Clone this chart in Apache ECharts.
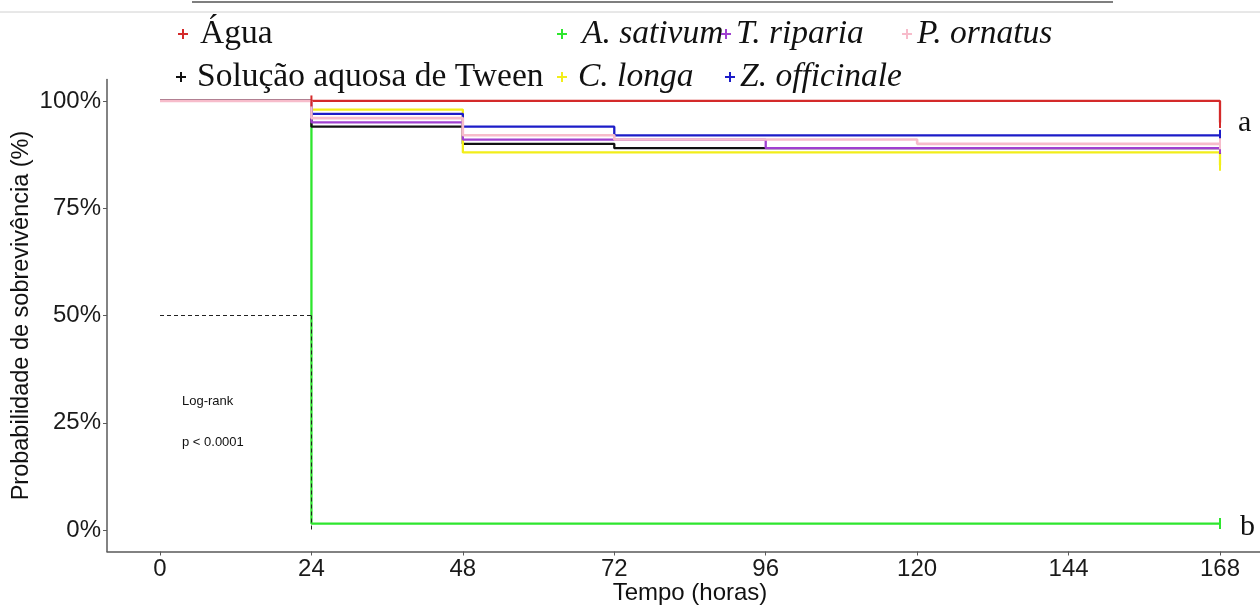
<!DOCTYPE html>
<html>
<head>
<meta charset="utf-8">
<title>Sobrevivência</title>
<script src="https://cdn.jsdelivr.net/npm/echarts@6/dist/echarts.min.js"></script>
<style>
  html, body { margin: 0; padding: 0; background: #fff; }
  #chart { width: 1260px; height: 605px; }
</style>
</head>
<body>
<div id="chart"></div>
<script>
// tempo (horas) e probabilidade de sobrevivência (%)
var hours      = [0, 24, 48, 72, 96, 120, 168];
var agua       = [100, 100, 100, 100, 100, 100, 95];
var sativum    = [100, 1.5, 1.5, 1.5, 1.5, 1.5, 1.5];
var tween      = [100, 94, 90, 89, 89, 89, 89];
var longa      = [100, 98, 88, 88, 88, 88, 85];
var riparia    = [100, 95, 91, 91, 89, 89, 89];
var officinale = [100, 97, 94, 92, 92, 92, 92];
var ornatus    = [100, 96, 92, 91, 91, 90, 90];

// censuras (horas)
var censorAgua = [24, 168];
var censorOthers = [168];

var xTicks = [0, 24, 48, 72, 96, 120, 144, 168];
var yTicks = [0, 25, 50, 75, 100];

var chart = echarts.init(document.getElementById('chart'));

function pairs(values) {
    return hours.map(function (h, i) { return [h, values[i]]; });
}
function censor(values, times) {
    return times.map(function (t) {
        return { coord: [t, values[hours.indexOf(t)]] };
    });
}
function km(name, values, color, times) {
    return {
        name: name,
        type: 'line',
        step: 'end',
        data: pairs(values),
        symbol: 'none',
        color: color,
        lineStyle: { color: color, width: 2.3 },
        markPoint: {
            symbol: 'rect',
            symbolSize: [2, 11],
            itemStyle: { color: color },
            label: { show: false },
            data: censor(values, times)
        }
    };
}

var series = [
    km('A. sativum', sativum, '#2ee62e', censorOthers),
    km('Solução aquosa de Tween', tween, '#111111', censorOthers),
    km('C. longa', longa, '#f2ee1a', censorOthers),
    km('T. riparia', riparia, '#a040d0', censorOthers),
    km('Z. officinale', officinale, '#1c1cc8', censorOthers),
    km('Água', agua, '#d42a2a', censorAgua),
    km('P. ornatus', ornatus, '#f7bccb', censorOthers)
];
series[6].lineStyle.width = 2.6;
// mediana
series[6].markLine = {
    silent: true,
    symbol: 'none',
    label: { show: false },
    lineStyle: { color: '#222', width: 1, type: [4, 3] },
    data: [
        [{ coord: [0, 50] }, { coord: [24, 50] }],
        [{ coord: [24, 50] }, { coord: [24, 0] }]
    ]
};

var plusIcon = 'path://M4,0H6V4H10V6H6V10H4V6H0V4H4Z';
function leg(name, left, top, italic, pad) {
    return {
        data: [name],
        left: left,
        top: top,
        icon: plusIcon,
        itemWidth: 10,
        itemHeight: 10,
        selectedMode: false,
        padding: 0,
        textStyle: {
            fontFamily: 'Liberation Serif',
            fontSize: 33.5,
            lineHeight: 36,
            fontStyle: italic ? 'italic' : 'normal',
            color: '#111',
            padding: [0, 0, 0, pad]
        }
    };
}

var option = {
    animation: false,
    backgroundColor: '#fff',
    legend: [
        leg('Água', 178, 16, false, 7),
        leg('A. sativum', 557, 16, true, 10),
        leg('T. riparia', 721, 16, true, 0),
        leg('P. ornatus', 902, 16, true, 0),
        leg('Solução aquosa de Tween', 176, 59, false, 6),
        leg('C. longa', 557, 59, true, 6),
        leg('Z. officinale', 725, 59, true, 0)
    ],
    grid: {
        left: 107,
        top: 79.5,
        width: 1166,
        height: 472,
        outerBoundsMode: 'none'
    },
    xAxis: {
        type: 'value',
        min: -8.4,
        max: 176.4,
        name: 'Tempo (horas)',
        nameLocation: 'middle',
        nameGap: 30,
        nameMoveOverlap: false,
        nameTextStyle: { fontFamily: 'Liberation Sans', fontSize: 24, color: '#111' },
        axisLine: { onZero: false, lineStyle: { color: '#5a5a5a', width: 1.5 } },
        axisTick: { length: 4, customValues: xTicks, lineStyle: { color: '#5a5a5a' } },
        axisLabel: { customValues: xTicks, fontFamily: 'Liberation Sans', fontSize: 24, color: '#1a1a1a', margin: 6 },
        splitLine: { show: false }
    },
    yAxis: {
        type: 'value',
        min: -5,
        max: 105,
        name: 'Probabilidade de sobrevivência (%)',
        nameLocation: 'middle',
        nameGap: 73,
        nameMoveOverlap: false,
        nameTextStyle: { fontFamily: 'Liberation Sans', fontSize: 23.5, color: '#111' },
        axisLine: { show: true, onZero: false, lineStyle: { color: '#5a5a5a', width: 1.5 } },
        axisTick: { show: true, length: 4, customValues: yTicks, lineStyle: { color: '#5a5a5a' } },
        axisLabel: {
            customValues: yTicks,
            fontFamily: 'Liberation Sans', fontSize: 24, color: '#1a1a1a', margin: 6,
            formatter: function (v) { return v + '%'; }
        },
        splitLine: { show: false }
    },
    graphic: [
        { type: 'line', shape: { x1: 192, y1: 2, x2: 1113, y2: 2 }, style: { stroke: '#555', lineWidth: 1.5 } },
        { type: 'line', shape: { x1: 0, y1: 12, x2: 1260, y2: 12 }, style: { stroke: '#d0d0d0', lineWidth: 1 } },
        { type: 'text', left: 182, top: 395, style: { text: 'Log-rank', font: '13px "Liberation Sans"', fill: '#111' } },
        { type: 'text', left: 182, top: 436, style: { text: 'p < 0.0001', font: '13px "Liberation Sans"', fill: '#111' } },
        { type: 'text', left: 1238, top: 108, style: { text: 'a', font: '30px "Liberation Serif"', fill: '#111' } },
        { type: 'text', left: 1240, top: 512, style: { text: 'b', font: '30px "Liberation Serif"', fill: '#111' } }
    ],
    series: series
};

chart.setOption(option);
</script>
</body>
</html>
